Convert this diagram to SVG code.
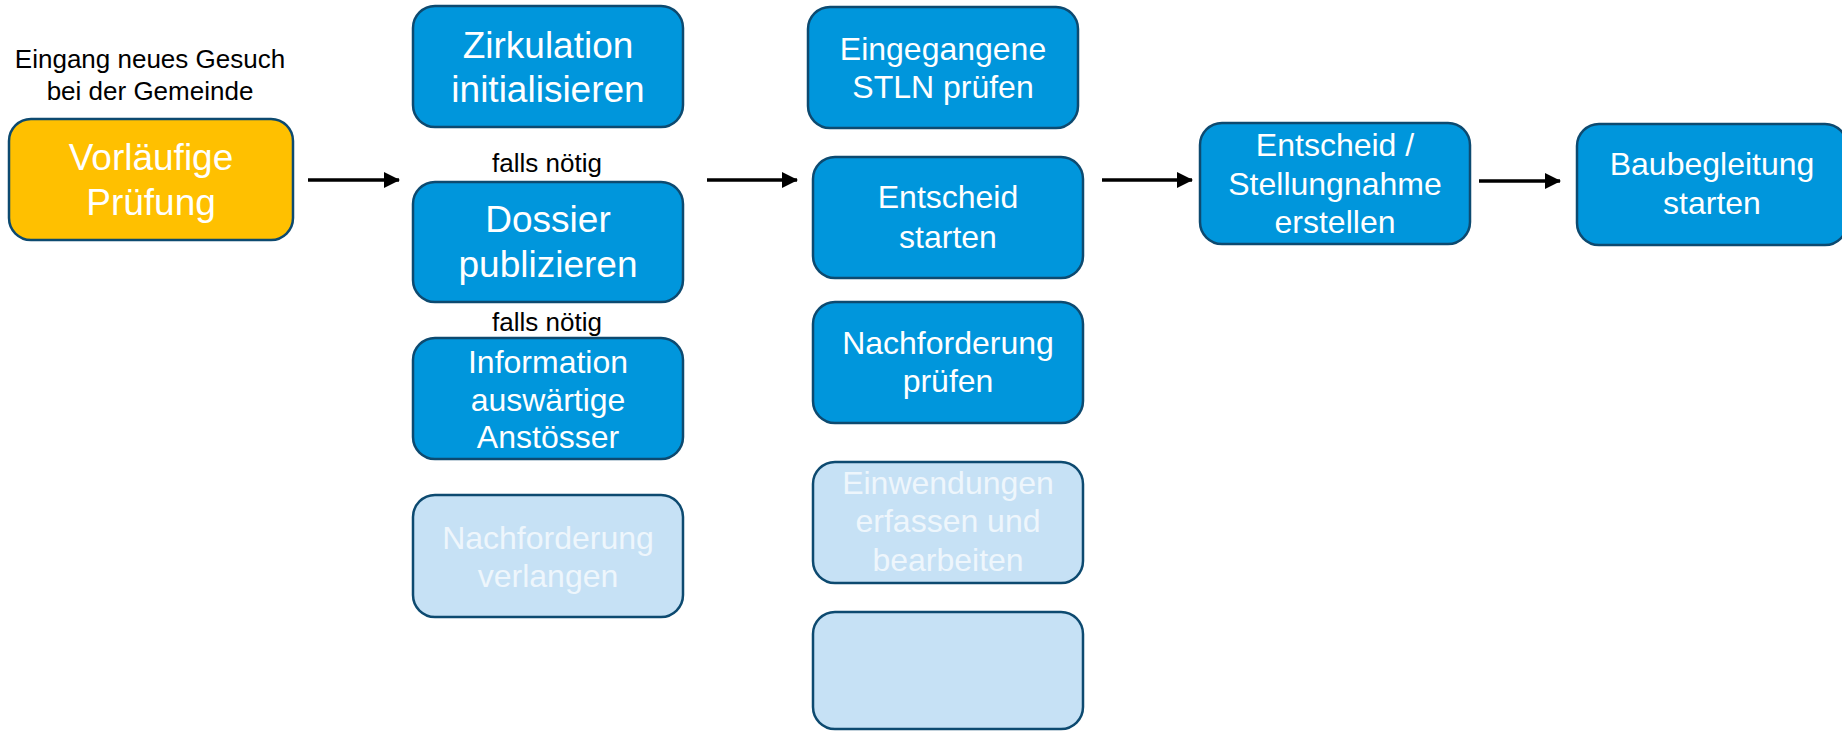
<svg xmlns="http://www.w3.org/2000/svg" width="1842" height="731" viewBox="0 0 1842 731">
<style>
text{font-family:"Liberation Sans",Arial,sans-serif;text-anchor:middle}
.box{stroke:#0D4A70;stroke-width:2.5}
.blue{fill:#0096DC}
.yellow{fill:#FFC000}
.light{fill:#C6E1F5}
.t37{font-size:37px;fill:#FFFFFF}
.t32{font-size:32px;fill:#FFFFFF}
.tp{font-size:32px;fill:#EEF6FC}
.lbl{font-size:26px;fill:#000000}
.conn{stroke:#000;stroke-width:3.5;fill:none}
</style>
<defs>
<marker id="ah" markerWidth="16" markerHeight="16" refX="15" refY="8" orient="auto" markerUnits="userSpaceOnUse">
<path d="M0,0 L16,8 L0,16 Z" fill="#000"/>
</marker>
</defs>
<rect width="1842" height="731" fill="#FFFFFF"/>
<g id="label-eingang">
<text class="lbl" x="150" y="68">Eingang neues Gesuch</text>
<text class="lbl" x="150" y="100">bei der Gemeinde</text>
</g>
<g id="n-vorlaeufige">
<rect class="box yellow" x="9" y="119" width="284" height="121" rx="22"/>
<text class="t37" x="151" y="170">Vorläufige</text>
<text class="t37" x="151" y="215">Prüfung</text>
</g>
<g id="n-zirkulation">
<rect class="box blue" x="413" y="6" width="270" height="121" rx="22"/>
<text class="t37" x="548" y="58">Zirkulation</text>
<text class="t37" x="548" y="102">initialisieren</text>
</g>
<g id="label-falls1"><text class="lbl" x="547" y="172">falls nötig</text></g>
<g id="n-dossier">
<rect class="box blue" x="413" y="182" width="270" height="120" rx="22"/>
<text class="t37" x="548" y="232">Dossier</text>
<text class="t37" x="548" y="277">publizieren</text>
</g>
<g id="label-falls2"><text class="lbl" x="547" y="331">falls nötig</text></g>
<g id="n-information">
<rect class="box blue" x="413" y="338" width="270" height="121" rx="22"/>
<text class="t32" x="548" y="373">Information</text>
<text class="t32" x="548" y="411">auswärtige</text>
<text class="t32" x="548" y="448">Anstösser</text>
</g>
<g id="n-nachforderung-verlangen">
<rect class="box light" x="413" y="495" width="270" height="122" rx="22"/>
<text class="tp" x="548" y="549">Nachforderung</text>
<text class="tp" x="548" y="587">verlangen</text>
</g>
<g id="n-eingegangene">
<rect class="box blue" x="808" y="7" width="270" height="121" rx="22"/>
<text class="t32" x="943" y="60">Eingegangene</text>
<text class="t32" x="943" y="98">STLN prüfen</text>
</g>
<g id="n-entscheid-starten">
<rect class="box blue" x="813" y="157" width="270" height="121" rx="22"/>
<text class="t32" x="948" y="208">Entscheid</text>
<text class="t32" x="948" y="248">starten</text>
</g>
<g id="n-nachforderung-pruefen">
<rect class="box blue" x="813" y="302" width="270" height="121" rx="22"/>
<text class="t32" x="948" y="354">Nachforderung</text>
<text class="t32" x="948" y="392">prüfen</text>
</g>
<g id="n-einwendungen">
<rect class="box light" x="813" y="462" width="270" height="121" rx="22"/>
<text class="tp" x="948" y="494">Einwendungen</text>
<text class="tp" x="948" y="532">erfassen und</text>
<text class="tp" x="948" y="571">bearbeiten</text>
</g>
<g id="n-empty">
<rect class="box light" x="813" y="612" width="270" height="117" rx="22"/>
</g>
<g id="n-entscheid-stellungnahme">
<rect class="box blue" x="1200" y="123" width="270" height="121" rx="22"/>
<text class="t32" x="1335" y="156">Entscheid /</text>
<text class="t32" x="1335" y="195">Stellungnahme</text>
<text class="t32" x="1335" y="233">erstellen</text>
</g>
<g id="n-baubegleitung">
<rect class="box blue" x="1577" y="124" width="270" height="121" rx="22"/>
<text class="t32" x="1712" y="175">Baubegleitung</text>
<text class="t32" x="1712" y="214">starten</text>
</g>
<g id="connectors">
<line class="conn" x1="308" y1="180" x2="399" y2="180" marker-end="url(#ah)"/>
<line class="conn" x1="707" y1="180" x2="797" y2="180" marker-end="url(#ah)"/>
<line class="conn" x1="1102" y1="180" x2="1192" y2="180" marker-end="url(#ah)"/>
<line class="conn" x1="1479" y1="181" x2="1560" y2="181" marker-end="url(#ah)"/>
</g>
</svg>
